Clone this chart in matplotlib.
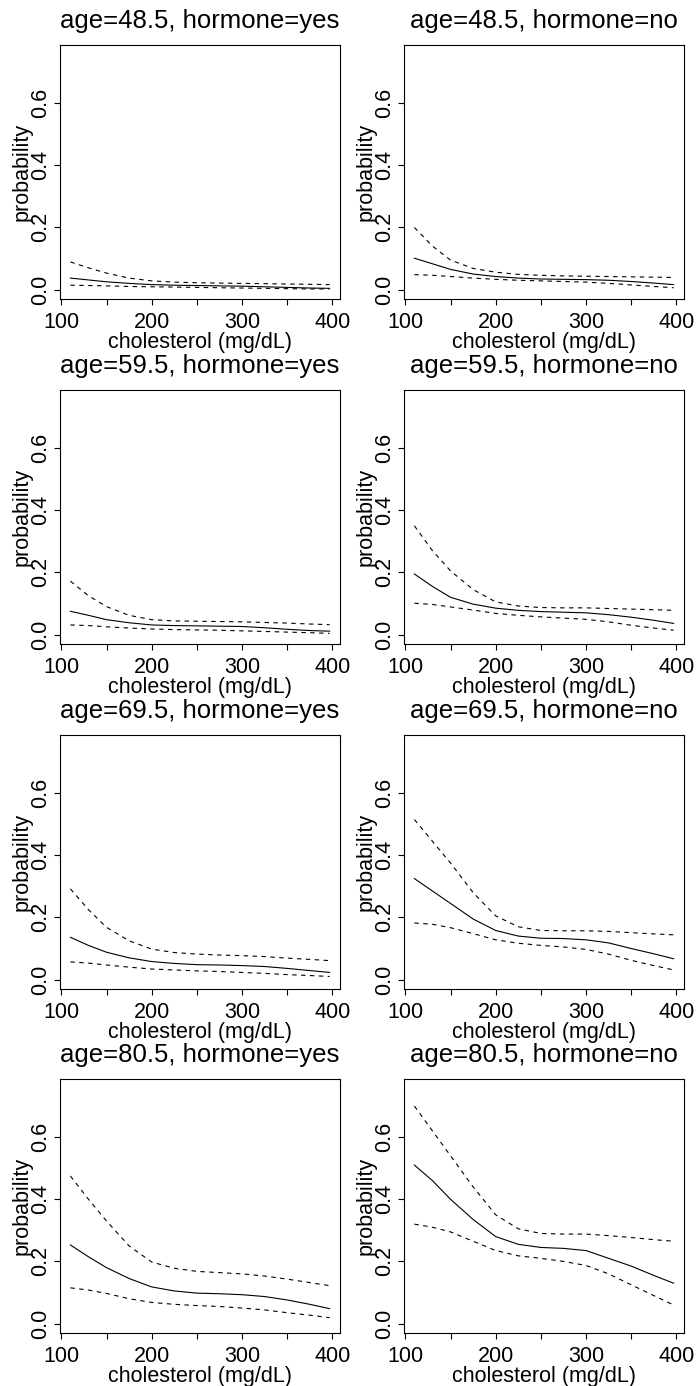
import matplotlib
matplotlib.use("Agg")
import matplotlib.pyplot as plt

plt.rcParams['font.family'] = ['Liberation Sans', 'DejaVu Sans']

# cholesterol grid (mg/dL) at which the fitted probabilities are shown
chol = [110, 130, 150, 175, 200, 225, 250, 275, 300, 325, 350, 375, 397]

ages = ["48.5", "59.5", "69.5", "80.5"]
hormones = ["yes", "no"]

# fitted probability with lower / upper confidence band
fit_48_yes = [0.037, 0.031, 0.025, 0.020, 0.016, 0.014, 0.013, 0.012, 0.011, 0.009, 0.007, 0.005, 0.004]
lo_48_yes = [0.014, 0.013, 0.012, 0.010, 0.009, 0.008, 0.007, 0.006, 0.005, 0.004, 0.003, 0.002, 0.002]
hi_48_yes = [0.089, 0.070, 0.053, 0.037, 0.028, 0.024, 0.022, 0.021, 0.020, 0.019, 0.018, 0.017, 0.016]

fit_48_no = [0.101, 0.083, 0.065, 0.050, 0.042, 0.037, 0.034, 0.033, 0.032, 0.030, 0.026, 0.021, 0.016]
lo_48_no = [0.048, 0.046, 0.042, 0.037, 0.033, 0.030, 0.028, 0.026, 0.024, 0.020, 0.015, 0.010, 0.006]
hi_48_no = [0.200, 0.140, 0.095, 0.068, 0.056, 0.049, 0.046, 0.044, 0.043, 0.042, 0.041, 0.040, 0.039]

fit_59_yes = [0.075, 0.062, 0.048, 0.038, 0.031, 0.029, 0.028, 0.027, 0.026, 0.022, 0.017, 0.013, 0.011]
lo_59_yes = [0.031, 0.029, 0.025, 0.021, 0.018, 0.016, 0.015, 0.014, 0.012, 0.010, 0.008, 0.006, 0.004]
hi_59_yes = [0.172, 0.125, 0.090, 0.062, 0.048, 0.044, 0.043, 0.042, 0.041, 0.039, 0.037, 0.034, 0.032]

fit_59_no = [0.195, 0.155, 0.120, 0.098, 0.085, 0.078, 0.074, 0.072, 0.070, 0.064, 0.056, 0.046, 0.036]
lo_59_no = [0.101, 0.097, 0.089, 0.079, 0.068, 0.062, 0.057, 0.053, 0.049, 0.041, 0.030, 0.021, 0.014]
hi_59_no = [0.350, 0.270, 0.205, 0.145, 0.105, 0.092, 0.087, 0.086, 0.086, 0.084, 0.082, 0.080, 0.078]

fit_69_yes = [0.136, 0.110, 0.088, 0.070, 0.058, 0.052, 0.048, 0.047, 0.045, 0.042, 0.036, 0.029, 0.023]
lo_69_yes = [0.057, 0.053, 0.047, 0.040, 0.034, 0.031, 0.028, 0.026, 0.023, 0.020, 0.016, 0.013, 0.010]
hi_69_yes = [0.292, 0.225, 0.168, 0.125, 0.098, 0.087, 0.082, 0.079, 0.077, 0.074, 0.069, 0.065, 0.061]

fit_69_no = [0.325, 0.285, 0.245, 0.195, 0.158, 0.140, 0.133, 0.132, 0.128, 0.118, 0.100, 0.083, 0.067]
lo_69_no = [0.182, 0.178, 0.167, 0.148, 0.128, 0.117, 0.110, 0.105, 0.097, 0.082, 0.062, 0.045, 0.031]
hi_69_no = [0.515, 0.445, 0.375, 0.280, 0.205, 0.170, 0.158, 0.157, 0.157, 0.155, 0.151, 0.147, 0.144]

fit_80_yes = [0.253, 0.215, 0.180, 0.145, 0.118, 0.105, 0.098, 0.096, 0.093, 0.087, 0.076, 0.062, 0.048]
lo_80_yes = [0.115, 0.108, 0.097, 0.080, 0.068, 0.062, 0.058, 0.055, 0.050, 0.044, 0.035, 0.027, 0.019]
hi_80_yes = [0.475, 0.400, 0.330, 0.250, 0.198, 0.178, 0.168, 0.164, 0.160, 0.153, 0.143, 0.132, 0.122]

fit_80_no = [0.510, 0.460, 0.400, 0.335, 0.280, 0.255, 0.245, 0.242, 0.235, 0.210, 0.185, 0.155, 0.130]
lo_80_no = [0.320, 0.310, 0.295, 0.265, 0.235, 0.218, 0.210, 0.200, 0.187, 0.160, 0.125, 0.090, 0.060]
hi_80_no = [0.700, 0.620, 0.540, 0.440, 0.350, 0.305, 0.290, 0.288, 0.288, 0.283, 0.277, 0.270, 0.265]

curves = {
    ("48.5", "yes"): (fit_48_yes, lo_48_yes, hi_48_yes),
    ("48.5", "no"): (fit_48_no, lo_48_no, hi_48_no),
    ("59.5", "yes"): (fit_59_yes, lo_59_yes, hi_59_yes),
    ("59.5", "no"): (fit_59_no, lo_59_no, hi_59_no),
    ("69.5", "yes"): (fit_69_yes, lo_69_yes, hi_69_yes),
    ("69.5", "no"): (fit_69_no, lo_69_no, hi_69_no),
    ("80.5", "yes"): (fit_80_yes, lo_80_yes, hi_80_yes),
    ("80.5", "no"): (fit_80_no, lo_80_no, hi_80_no),
}

x_ticks = [100, 150, 200, 250, 300, 350, 400]
x_labels = ["100", "", "200", "", "300", "", "400"]
y_ticks = [0.0, 0.2, 0.4, 0.6]
y_labels = ["0.0", "0.2", "0.4", "0.6"]

W, H = 696, 1386
fig = plt.figure(figsize=(W / 100, H / 100), dpi=100)

col_left = [60, 404]
col_width = 280
row_top = [45, 390, 735, 1079]
row_height = 254

lw = 0.8
for r, age in enumerate(ages):
    for c, horm in enumerate(hormones):
        ax = fig.add_axes([col_left[c] / W, 1 - (row_top[r] + row_height) / H,
                           col_width / W, row_height / H])
        fit, lo, hi = curves[(age, horm)]
        ax.plot(chol, fit, color="black", lw=lw)
        ax.plot(chol, lo, color="black", lw=lw, linestyle=(0, (4, 4)))
        ax.plot(chol, hi, color="black", lw=lw, linestyle=(0, (4, 4)))

        ax.set_xlim(98.5, 408.5)
        ax.set_ylim(-0.0303, 0.787)
        ax.set_xticks(x_ticks)
        ax.set_xticklabels(x_labels)
        ax.set_yticks(y_ticks)
        ax.set_yticklabels(y_labels, rotation=90, va="center")
        ax.tick_params(axis="both", direction="out", length=4.2, width=lw,
                       labelsize=15.5, color="black")
        ax.tick_params(axis="x", pad=5.2)
        ax.tick_params(axis="y", pad=2.0)
        for s in ax.spines.values():
            s.set_linewidth(lw)

        ax.set_title(f"age={age}, hormone={horm}", fontsize=18.5, pad=12.5)
        ax.set_xlabel("cholesterol (mg/dL)", fontsize=15.5)
        ax.xaxis.set_label_coords(0.5, -0.13)
        ax.set_ylabel("probability", fontsize=15.5)
        ax.yaxis.set_label_coords(-0.097, 0.5)

fig.savefig("out.png", dpi=100)
